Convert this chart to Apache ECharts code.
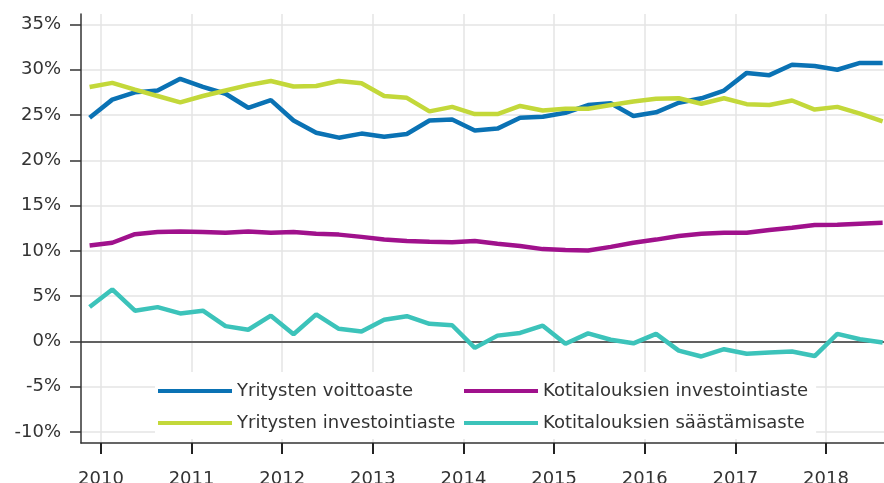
<!DOCTYPE html>
<html><head><meta charset="utf-8">
<script src="https://cdn.jsdelivr.net/npm/echarts@6/dist/echarts.min.js"></script>
<style>html,body{margin:0;padding:0;background:#fff}#c{width:884px;height:483px}</style>
</head><body><div id="c"></div>
<script>
const quarters = ['2009Q4','2010Q1','2010Q2','2010Q3','2010Q4','2011Q1','2011Q2','2011Q3','2011Q4',
  '2012Q1','2012Q2','2012Q3','2012Q4','2013Q1','2013Q2','2013Q3','2013Q4',
  '2014Q1','2014Q2','2014Q3','2014Q4','2015Q1','2015Q2','2015Q3','2015Q4',
  '2016Q1','2016Q2','2016Q3','2016Q4','2017Q1','2017Q2','2017Q3','2017Q4',
  '2018Q1','2018Q2','2018Q3'];
const yritystenVoittoaste = [24.7,26.7,27.5,27.7,29.0,28.1,27.35,25.8,26.65,24.4,23.05,22.5,22.95,22.6,22.9,24.4,24.5,23.3,23.5,24.7,24.8,25.25,26.1,26.3,24.9,25.3,26.35,26.85,27.7,29.65,29.4,30.55,30.4,30.0,30.75,30.75];
const yritystenInvestointiaste = [28.1,28.55,27.8,27.1,26.4,27.1,27.7,28.3,28.75,28.15,28.2,28.75,28.5,27.1,26.9,25.4,25.9,25.1,25.1,26.0,25.5,25.7,25.7,26.1,26.5,26.8,26.85,26.25,26.85,26.2,26.1,26.6,25.6,25.9,25.15,24.3];
const kotitalouksienInvestointiaste = [10.6,10.9,11.85,12.1,12.15,12.1,12.0,12.15,12.0,12.1,11.9,11.8,11.55,11.25,11.1,11.0,10.95,11.1,10.8,10.55,10.2,10.1,10.05,10.45,10.9,11.25,11.65,11.9,12.0,12.0,12.3,12.55,12.85,12.9,13.0,13.1];
const kotitalouksienSaastamisaste = [3.8,5.75,3.4,3.8,3.1,3.4,1.7,1.3,2.85,0.8,3.0,1.4,1.1,2.4,2.8,1.95,1.8,-0.7,0.65,0.95,1.75,-0.25,0.9,0.2,-0.2,0.85,-1.0,-1.65,-0.85,-1.35,-1.2,-1.1,-1.6,0.85,0.25,-0.1];
const yearTicks = [2010,2011,2012,2013,2014,2015,2016,2017,2018];
const yTicks = [-10,-5,0,5,10,15,20,25,30,35];
const names = ['Yritysten voittoaste','Yritysten investointiaste','Kotitalouksien investointiaste','Kotitalouksien säästämisaste'];
const colors = ['#0a72b4','#c3d83a','#a0118c','#3cc3ba'];

function qx(q){ const y=+q.slice(0,4), n=+q.slice(5); return y + (n-0.5)/4; }
function pts(arr){ return arr.map((v,i)=>[qx(quarters[i]), v]); }

const chart = echarts.init(document.getElementById('c'), null, {renderer:'canvas'});
const font = 'DejaVu Sans';
const series = [yritystenVoittoaste, yritystenInvestointiaste, kotitalouksienInvestointiaste, kotitalouksienSaastamisaste].map((arr,k)=>({
  name: names[k], type:'line', data: pts(arr), showSymbol:false, symbol:'none',
  lineStyle:{width:4.5, color:colors[k]}, itemStyle:{color:colors[k]}, z: 3+k
}));
series.unshift({
  name:'zero', type:'line', data:[], z:2,
  markLine:{silent:true, symbol:'none', label:{show:false},
    lineStyle:{color:'#333', width:1.5, type:'solid'}, data:[{yAxis:0}], animation:false}
});
chart.setOption({
  animation:false,
  grid:{left:81, right:0, top:14, bottom:40, containLabel:false, outerBoundsMode:'none'},
  xAxis:{type:'value', min:2009.78, max:2018.64,
    axisLine:{show:true, onZero:false, lineStyle:{color:'#333', width:1.5}},
    axisTick:{show:true, inside:false, length:11, customValues:yearTicks, lineStyle:{color:'#222', width:2}},
    axisLabel:{customValues:yearTicks, margin:27, color:'#333', fontFamily:font, fontSize:18, formatter:v=>String(v)},
    splitLine:{show:true, lineStyle:{color:'#e4e4e4', width:1.5}}
  },
  yAxis:{type:'value', min:-11.2, max:36.15,
    axisLine:{show:true, onZero:false, lineStyle:{color:'#333', width:1.5}},
    axisTick:{show:true, length:11, customValues:yTicks, lineStyle:{color:'#333', width:1.5}},
    axisLabel:{customValues:yTicks, margin:20, color:'#333', fontFamily:font, fontSize:18, formatter:v=>v+'%'},
    splitLine:{show:true, lineStyle:{color:'#e4e4e4', width:1.5}}
  },
  legend:[
    {data:[names[0],names[1]], orient:'vertical', left:155, top:372, padding:[10,45,7,3],
     backgroundColor:'#fff', icon:'rect', itemWidth:74, itemHeight:4, itemGap:14,
     textStyle:{color:'#333', fontFamily:font, fontSize:18}, selectedMode:false},
    {data:[names[2],names[3]], orient:'vertical', left:461, top:372, padding:[10,8,7,3],
     backgroundColor:'#fff', icon:'rect', itemWidth:74, itemHeight:4, itemGap:14,
     textStyle:{color:'#333', fontFamily:font, fontSize:18}, selectedMode:false}
  ],
  series: series
});
</script></body></html>
